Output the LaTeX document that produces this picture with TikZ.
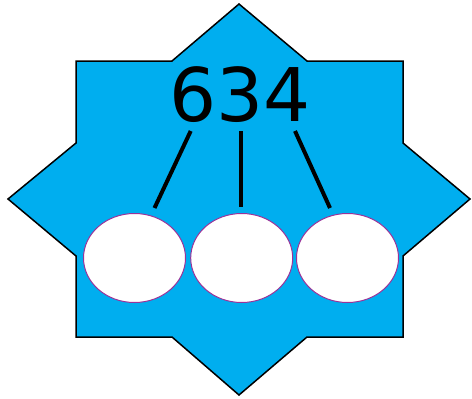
\documentclass[tikz,border=0pt]{standalone}
\usepackage{fontspec}
\newfontfamily\numfont{DejaVu Sans}
\definecolor{starblue}{HTML}{00AEEF}
\definecolor{ringpurple}{HTML}{993399}
\tikzset{
  stem/.style={line width=4pt, line cap=butt},
  slot/.style={ellipse, draw=ringpurple, line width=1pt, fill=white, minimum width=102pt, minimum height=89pt, inner sep=0pt},
}
\usetikzlibrary{shapes.geometric}
\begin{document}
\begin{tikzpicture}[x=1pt,y=-1pt]
\useasboundingbox (0,0) rectangle (472,399);
\draw[fill=starblue, line width=1.5pt, line join=miter]
  (76,61) -- (172,61) -- (239,4) -- (307,61) -- (403,61) -- (403,143) -- (470,199)
  -- (403,256) -- (403,337) -- (307,337) -- (239,395) -- (172,337) -- (76,337)
  -- (76,256) -- (8,199) -- (76,143) -- cycle;
\node[anchor=base, inner sep=0pt, font=\numfont\fontsize{74}{74}\selectfont] (num) at (240,121) {634};
\node[slot] (e1) at (134.5,258) {};
\node[slot] (e2) at (241.7,258) {};
\node[slot] (e3) at (347.5,258) {};
\coordinate (t1) at (190.7,131);
\coordinate (t2) at (241.3,131);
\coordinate (t3) at (295,131);
\coordinate (b1) at (154.5,208);
\coordinate (b2) at (241.3,207);
\coordinate (b3) at (330,208);
\draw[stem] (t1) -- (b1);
\draw[stem] (t2) -- (b2);
\draw[stem] (t3) -- (b3);
\end{tikzpicture}
\end{document}
